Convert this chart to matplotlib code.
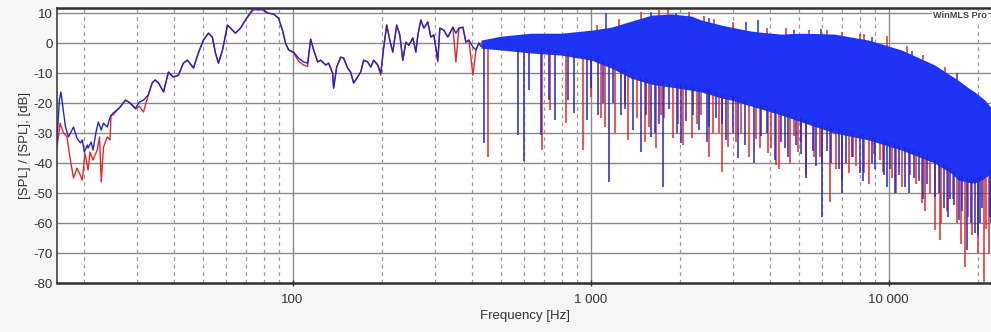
import numpy as np
import matplotlib
matplotlib.use("Agg")
import matplotlib.pyplot as plt

plt.rcParams['font.family'] = ['Liberation Sans', 'DejaVu Sans']
plt.rcParams['axes.unicode_minus'] = False

# ---- low-frequency part of the two responses (Hz, dB) ----
blue_lo_f = [16.2, 16.5, 16.7, 17.0, 17.3, 17.7, 18.4, 18.9, 19.4, 19.7, 20.0, 20.5, 20.6,
             21.1, 21.4, 21.9, 22.3, 22.8, 23.2, 23.9, 24.4, 25.0, 25.8, 26.4, 27.5, 28.5,
             29.7, 30.6, 31.6, 32.8, 33.8, 34.6, 35.5, 36.9, 38.3, 39.8, 41.4, 43.0, 44.4,
             46.5, 48.3, 50.2, 52.2, 53.8, 55.1, 56.4, 58.2, 60.5, 61.9, 64.3, 66.9, 69.5,
             72.3, 73.9, 76.9, 79.3, 82.4, 86.3, 89.7, 92.5, 94.7, 97.0, 100.8, 104.7, 108.9,
             112.3, 115.0, 117.7, 121.4, 124.2, 129.1, 132.1, 136.3, 137.3, 140.6, 145.0,
             148.3, 153.0, 156.6, 160.3, 165.3, 169.2, 173.2, 178.7, 182.9, 187.2, 193.1,
             197.6, 202.3, 207.0, 211.9, 216.9, 223.6, 229.0, 234.4, 239.9, 245.6, 253.3,
             259.2, 263.3, 269.4, 275.8, 284.3, 291.0, 297.8, 307.1, 312.0, 321.8, 331.9,
             345.0, 353.2, 361.5, 372.9, 381.6, 390.6, 402.8, 412.4, 422.1, 428.7]
blue_lo_db = [-32.0, -19.0, -16.3, -22.3, -28.0, -31.3, -28.0, -31.7, -33.3, -32.3, -36.3, -34.0, -35.0,
              -33.0, -35.7, -29.7, -26.3, -29.0, -26.7, -28.0, -24.7, -23.3, -22.3, -21.3, -19.0, -20.0,
              -21.7, -19.7, -19.0, -17.3, -13.3, -12.3, -13.3, -16.3, -9.7, -11.3, -10.7, -6.7, -5.7,
              -8.3, -3.3, 1.0, 3.3, 2.0, -3.3, -6.7, -2.3, 6.0, 5.0, 3.3, 5.0, 7.7,
              10.3, 11.5, 11.0, 11.5, 10.0, 9.7, 8.3, 4.3, 0.0, -2.3, -3.0, -5.0, -6.3,
              -6.7, 1.3, -2.3, -6.3, -5.7, -7.3, -6.7, -10.0, -15.0, -8.0, -4.7,
              -5.0, -8.3, -9.7, -13.3, -11.3, -9.7, -5.7, -6.3, -8.0, -5.7, -7.3,
              -10.0, -1.3, 6.0, 1.0, -3.0, 6.0, 2.7, -5.7, 0.3, -0.7, 1.7,
              -3.0, 2.7, 7.7, 5.0, 7.0, 2.0, 2.7, -5.7, 5.0, 4.3, 2.0,
              5.3, 3.3, 5.0, 5.3, 0.3, 1.0, -1.3, -2.3, 0.0, -1.0]

red_lo_f = [16.2, 16.6, 17.0, 17.5, 17.9, 18.4, 18.9, 19.4, 19.7, 20.1, 20.6, 20.9, 21.4,
            22.1, 22.5, 22.8, 23.2, 23.9, 24.4, 24.6, 25.0, 25.8, 26.4, 27.5, 28.5, 29.7,
            30.6, 31.6, 32.8, 33.8, 34.6, 35.5, 36.9, 38.3, 39.8, 41.4, 43.0, 44.4, 46.5,
            48.3, 50.2, 52.2, 53.8, 55.1, 56.4, 58.2, 60.5, 61.9, 64.3, 66.9, 69.5, 72.3,
            73.9, 76.9, 79.3, 82.4, 86.3, 89.7, 92.5, 94.7, 97.0, 100.8, 104.7, 108.9, 112.3,
            115.0, 117.7, 121.4, 124.2, 129.1, 132.1, 136.3, 137.3, 140.6, 145.0, 148.3,
            153.0, 156.6, 160.3, 165.3, 169.2, 173.2, 178.7, 182.9, 187.2, 193.1, 197.6,
            202.3, 207.0, 211.9, 216.9, 223.6, 229.0, 234.4, 239.9, 245.6, 253.3, 259.2,
            263.3, 269.4, 275.8, 284.3, 291.0, 297.8, 307.1, 312.0, 321.8, 331.9, 345.0,
            353.2, 361.5, 372.9, 381.6, 390.6, 402.8, 412.4, 422.1, 428.7]
red_lo_db = [-34.7, -26.7, -29.7, -31.3, -38.0, -45.0, -41.7, -44.0, -45.7, -36.7, -42.3, -36.3, -39.0,
             -35.7, -31.3, -46.3, -34.7, -31.3, -32.3, -24.0, -24.0, -22.3, -21.3, -19.0, -20.0, -22.0,
             -21.0, -23.0, -17.3, -13.3, -12.3, -13.3, -16.3, -9.7, -11.3, -10.7, -6.7, -5.7, -8.3,
             -3.3, 1.0, 3.3, 2.0, -3.3, -6.7, -2.3, 6.0, 5.0, 3.3, 5.0, 7.7, 10.0,
             11.0, 11.3, 11.0, 10.0, 9.7, 8.3, 4.3, 0.0, -2.3, -3.3, -6.0, -7.3, -7.8,
             1.3, -2.3, -6.3, -5.7, -7.3, -6.7, -10.0, -15.0, -8.0, -4.7, -5.0,
             -8.3, -9.7, -13.3, -11.3, -9.7, -5.7, -6.3, -8.0, -5.7, -7.3, -10.7,
             -1.3, 6.0, 1.0, -3.0, 6.0, 2.7, -5.7, 0.3, -0.7, 1.7, -3.0,
             2.7, 7.7, 5.0, 7.0, 2.0, 2.7, -6.3, 5.0, 4.3, 2.0, 5.3,
             -6.3, 5.0, 5.3, 0.3, 1.0, -10.7, -2.3, 0.0, -1.0]

# ---- dense high-frequency part: band envelopes (Hz, dB) ----
band_f = [429, 500, 631, 796, 1005, 1172, 1367, 1597, 1866, 2178, 2352, 2746, 2966, 3459,
          3830, 4366, 5100, 6580, 8570, 11060, 14280, 16290, 17180, 18570, 19450, 21030, 22390]
blue_upper = [1.0, 2.3, 3.3, 3.3, 4.3, 5.3, 7.3, 9.3, 9.7, 9.0, 7.7, 6.0, 5.3, 4.0,
              3.5, 3.0, 3.3, 3.0, 1.0, -2.3, -7.3, -11.0, -12.5, -15.0, -16.3, -19.0, -22.3]
blue_lower = [-1.7, -2.3, -3.3, -4.0, -5.7, -8.3, -11.7, -13.7, -14.7, -15.7, -16.3, -18.3, -19.0, -21.0,
              -22.3, -24.0, -26.3, -30.0, -32.3, -35.7, -40.0, -43.5, -45.7, -46.5, -46.7, -45.0, -43.0]
red_upper = [0.5, 1.8, 2.8, 2.8, 3.8, 4.8, 6.8, 8.8, 9.2, 8.5, 7.2, 5.5, 4.8, 3.5,
             3.0, 2.5, 2.8, 2.5, 0.5, -2.8, -7.8, -11.5, -13.0, -15.5, -16.8, -19.5, -22.8]
red_lower = [-1.2, -1.8, -2.8, -3.5, -5.2, -7.8, -11.2, -13.2, -14.2, -15.2, -15.8, -17.8, -18.5, -20.5,
             -21.8, -23.5, -25.8, -29.5, -31.8, -35.2, -39.5, -43.0, -45.2, -46.0, -46.2, -44.5, -42.5]

# ---- notches below the band (Hz, dB) ----
blue_dip_f = [439, 571, 597, 621, 682, 726, 760, 839, 881, 973, 1000, 1059, 1100, 1154, 1190,
              1268, 1300, 1390, 1479, 1537, 1597, 1650, 1699, 1753, 1836, 1950, 2014, 2094, 2200,
              2316, 2450, 2501, 2642, 2750, 2853, 3014, 3133, 3300, 3546, 3741, 3900, 4170, 4366,
              4500, 4611, 4906, 5100, 5298, 5596, 5700, 5995, 6200, 6430, 6800, 6955, 7200, 7510,
              7993, 8200, 8770, 9000, 9621, 9900, 10080, 10470, 10800, 11320, 11700, 12130, 12600,
              13000, 13420, 14280, 14800, 15300, 15800, 16030, 16600, 17180, 17590, 18280, 18900,
              19450, 19900, 20210, 20600, 21840, 22000]
blue_dip_db = [-33.3, -30.7, -39.3, -15.7, -30.7, -19.0, -25.7, -19.0, -23.3, -25.7, -15.0, -24.0, -20.0, -46.3, -20.0,
               -24.0, -22.0, -29.0, -36.3, -24.0, -31.3, -30.0, -27.0, -48.0, -22.0, -30.0, -33.3, -26.0, -24.0,
               -29.0, -33.0, -28.0, -25.0, -27.0, -32.3, -30.0, -38.3, -34.0, -40.0, -31.0, -30.0, -39.0, -33.0,
               -35.0, -38.0, -34.0, -37.0, -45.0, -36.0, -41.0, -58.0, -36.0, -40.0, -42.0, -50.0, -40.0, -38.0,
               -43.3, -46.0, -40.0, -42.0, -44.0, -48.0, -42.0, -50.0, -44.0, -48.0, -50.0, -45.0, -46.0,
               -52.0, -47.0, -51.3, -50.0, -55.0, -58.0, -52.0, -54.0, -59.0, -56.0, -69.0, -60.0,
               -63.3, -64.0, -60.0, -55.0, -58.0, -60.0]
red_dip_f = [452, 687, 731, 828, 944, 1000, 1085, 1120, 1209, 1300, 1338, 1433, 1520, 1573, 1661,
             1720, 1767, 1893, 1969, 2050, 2193, 2280, 2352, 2500, 2582, 2700, 2768, 2899, 3085,
             3207, 3400, 3600, 3700, 3953, 4046, 4205, 4300, 4685, 4800, 4981, 5100, 5300, 5636,
             5865, 6000, 6337, 6680, 7000, 7338, 7600, 7800, 8299, 8600, 8910, 9330, 9600, 10240,
             10600, 11060, 11770, 12400, 12910, 13200, 13740, 14280, 14840, 15000, 15670, 16500,
             16940, 17500, 17990, 18500, 19010, 20000, 20850, 21200, 21680, 22170]
red_dip_db = [-38.0, -35.7, -22.3, -26.7, -35.7, -18.0, -25.0, -28.0, -30.0, -20.0, -32.3, -25.0, -33.0, -28.0, -35.0,
              -24.0, -25.0, -31.7, -27.0, -34.0, -31.7, -27.0, -24.0, -38.0, -30.0, -30.0, -43.0, -34.7, -33.0,
              -30.0, -38.0, -32.0, -35.0, -36.7, -35.0, -40.7, -42.0, -40.0, -31.0, -36.3, -33.0, -44.0, -38.0,
              -38.0, -40.0, -53.0, -42.0, -46.0, -43.3, -38.0, -41.0, -43.3, -47.0, -37.0, -39.0, -43.0, -45.0,
              -50.0, -48.0, -44.0, -47.0, -53.3, -56.0, -50.0, -62.3, -65.7, -60.0, -56.0, -52.0,
              -60.0, -67.0, -74.7, -58.0, -64.0, -70.0, -79.7, -62.0, -70.0, -66.0]

# ---- spikes above the band (Hz, dB) ----
blue_peak_f = [1127, 1597, 1935, 2500, 3334, 3657, 4800, 5950, 8800, 12000, 17000]
blue_peak_db = [10.0, 10.5, 10.0, 8.5, 7.0, 7.7, 4.5, 4.7, 2.0, -2.5, -10.0]
red_peak_f = [1050, 1250, 1479, 1700, 1823, 2143, 2409, 2600, 3000, 3900, 4540, 5400, 6200,
              7000, 7993, 8300, 9845, 11500, 13000, 15500]
red_peak_db = [6.0, 8.0, 10.5, 11.0, 11.5, 10.5, 9.0, 8.0, 7.0, 5.0, 5.0, 4.5, 4.3,
               3.7, 3.0, 3.0, 2.3, -1.0, -4.0, -8.0]

RED = "#e02a2a"
BLUE_FILL = "#1f33f5"
BLUE_LINE = "#2426c8"

fig = plt.figure(figsize=(9.91, 3.32), dpi=100, facecolor="#f7f7f7")
ax = fig.add_axes([57 / 991, 1 - 283 / 332, 1 - 57 / 991 + 0.002, 275 / 332])
ax.set_facecolor("white")
ax.set_xscale("log")
ax.set_xlim(16.2, 22400)
ax.set_ylim(-80, 11.7)


def env_at(freqs, env):
    return np.interp(np.log10(freqs), np.log10(band_f), env)


# red response (drawn underneath)
ax.plot(red_lo_f, red_lo_db, color=RED, lw=1.0, zorder=2)
ax.fill_between(band_f, red_lower, red_upper, color=RED, lw=0, zorder=2)
ax.vlines(red_dip_f, red_dip_db, env_at(red_dip_f, red_lower) + 1.5, color=RED, lw=1.1, zorder=2)
ax.vlines(red_peak_f, env_at(red_peak_f, red_upper) - 1.5, red_peak_db, color=RED, lw=1.1, zorder=2)

# blue response on top
ax.plot(blue_lo_f, blue_lo_db, color=BLUE_LINE, lw=1.0, zorder=3)
ax.fill_between(band_f, blue_lower, blue_upper, color=BLUE_FILL, lw=0, zorder=3)
ax.vlines(blue_dip_f, blue_dip_db, env_at(blue_dip_f, blue_lower) + 1.5, color=BLUE_LINE, lw=1.1, zorder=3)
ax.vlines(blue_peak_f, env_at(blue_peak_f, blue_upper) - 1.5, blue_peak_db, color=BLUE_FILL, lw=1.1, zorder=3)

# grid
for yv in range(-70, 11, 10):
    ax.axhline(yv, color="#8a8a8a", lw=1.0, zorder=1)
major = [100, 1000, 10000]
minor = [m * d for d in (10, 100, 1000, 10000) for m in range(2, 10) if 16.2 < m * d < 22400]
for xv in major:
    ax.axvline(xv, color="#8a8a8a", lw=1.0, zorder=1)
for xv in minor:
    ax.axvline(xv, color="#9a9a9a", lw=0.9, ls=(0, (3, 3)), zorder=1)

ax.set_xticks(major, labels=["100", "1 000", "10 000"])
ax.set_xticks([], minor=True)
ax.set_yticks(list(range(-80, 11, 10)))
ax.tick_params(axis="x", length=4, width=1, direction="inout", pad=6,
               labelsize=9.5, colors="#333333")
ax.tick_params(axis="y", length=0, pad=3, labelsize=9.5, colors="#333333")

for side in ("top", "bottom"):
    ax.spines[side].set_linewidth(1.8)
    ax.spines[side].set_color("#303030")
ax.spines["left"].set_linewidth(1.2)
ax.spines["left"].set_color("#404040")
ax.spines["right"].set_visible(False)

ax.set_xlabel("Frequency [Hz]", fontsize=9.5, color="#333333", labelpad=3)
ax.set_ylabel("[SPL] / [SPL], [dB]", fontsize=9.5, color="#333333", labelpad=2)

fig.text(933 / 991, 1 - 16 / 332, "WinMLS Pro", fontsize=6.6, fontweight="bold",
         color="#444444", va="center", ha="left",
         bbox=dict(facecolor="white", edgecolor="none", pad=0.5))

fig.savefig("out.png", dpi=100, facecolor=fig.get_facecolor())
